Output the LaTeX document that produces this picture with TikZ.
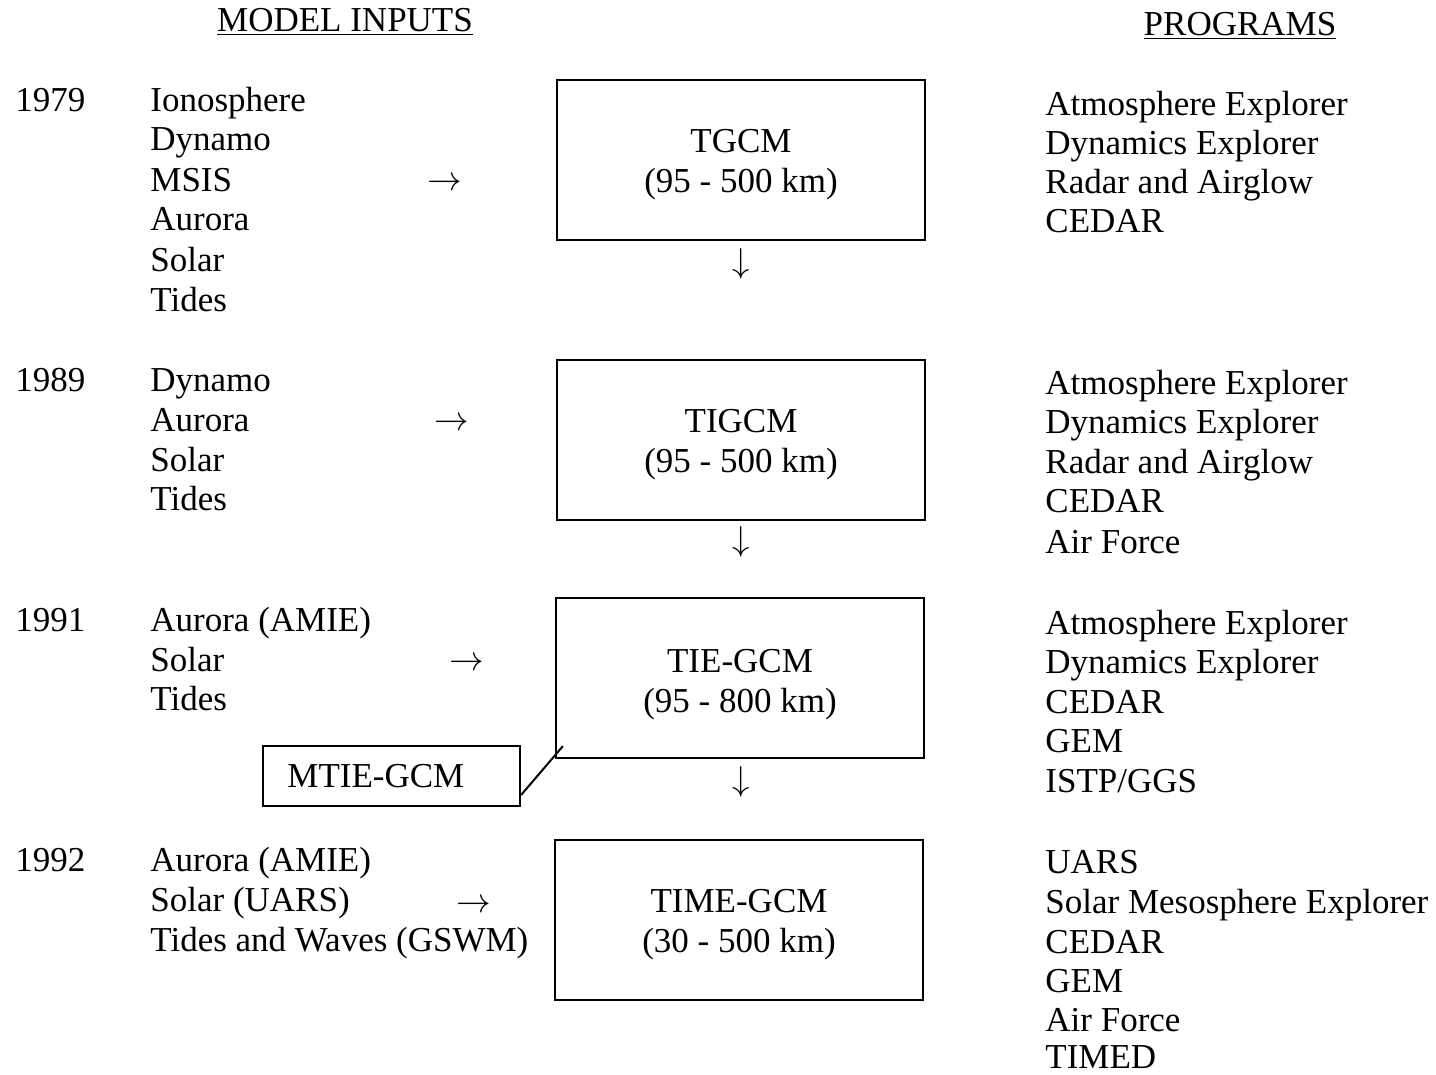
\documentclass[tikz,border=0pt]{standalone}
\usepackage{fontspec}
\setmainfont{Liberation Serif}
\begin{document}
\begin{tikzpicture}[x=0.5pt,y=-0.5pt,
  txt/.style={font=\fontsize{17.5}{20}\selectfont, inner sep=0pt, text height=12pt, text depth=0.1pt},
  item/.style={txt, anchor=west},
  glyph/.style={font=\fontsize{17.5}{20}\selectfont, inner sep=0pt},
  modelbox/.style={draw, line width=1.1pt, inner sep=0pt, minimum width=184pt, minimum height=80pt},
  boxtext/.style={align=center, inner sep=0pt, font=\fontsize{17.5}{20}\selectfont},
  hdr/.style={font=\fontsize{17.5}{20}\selectfont, inner sep=0pt, anchor=center}
]
\useasboundingbox (0,0) rectangle (1436,1075);

% headers
\node[hdr] (h1) at (345,22) {\underline{MODEL INPUTS}};
\node[hdr] (h2) at (1240,26) {\underline{PROGRAMS}};

% years
\foreach \t/\y [count=\i] in {1979/100,1989/380,1991/620,1992/860}
  \node[item] (yr\i) at (15,\y) {\t};

% model inputs
\foreach \t/\y [count=\i] in {Ionosphere/100,Dynamo/139,MSIS/180,Aurora/219,Solar/260,Tides/300,
  Dynamo/380,Aurora/420,Solar/460,Tides/499,
  Aurora (AMIE)/620,Solar/660,Tides/699,
  Aurora (AMIE)/860,Solar (UARS)/900,Tides and Waves (GSWM)/940}
  \node[item] (in\i) at (150,\y) {\t};

% programs
\foreach \t/\y [count=\i] in {Atmosphere Explorer/104,Dynamics Explorer/143,Radar and Airglow/182,CEDAR/221,
  Atmosphere Explorer/383,Dynamics Explorer/422,Radar and Airglow/462,CEDAR/501,Air Force/542,
  Atmosphere Explorer/623,Dynamics Explorer/662,CEDAR/702,GEM/741,ISTP\slash GGS/781,
  UARS/862,Solar Mesosphere Explorer/902,CEDAR/942,GEM/981,Air Force/1020,TIMED/1057}
  \node[item] (pr\i) at (1045,\y) {\t};

% model boxes
\node[modelbox] (b1) at (741,160) {};
\node[modelbox] (b2) at (741,440) {};
\node[modelbox] (b3) at (740,678) {};
\node[modelbox] (b4) at (739,920) {};
\node[boxtext] (t1) at (741,165) {TGCM\\(95 - 500 km)};
\node[boxtext] (t2) at (741,445) {TIGCM\\(95 - 500 km)};
\node[boxtext] (t3) at (740,685) {TIE-GCM\\(95 - 800 km)};
\node[boxtext] (t4) at (739,925) {TIME-GCM\\(30 - 500 km)};

% right arrows (glyphs)
\node[glyph] (ra1) at (445,184) {$\rightarrow$};
\node[glyph] (ra2) at (452,424) {$\rightarrow$};
\node[glyph] (ra3) at (467,664) {$\rightarrow$};
\node[glyph] (ra4) at (474,906) {$\rightarrow$};

% down arrows (glyphs)
\node[glyph] (da1) at (741,264) {$\downarrow$};
\node[glyph] (da2) at (741,542) {$\downarrow$};
\node[glyph] (da3) at (741,782) {$\downarrow$};

% MTIE-GCM box
\node[draw, line width=1.1pt, minimum width=128.5pt, minimum height=30pt, inner sep=0pt] (mtie) at (391.5,776) {};
\node[item] (mtiet) at (287,776) {MTIE-GCM};
\coordinate (tj) at ([xshift=4pt,yshift=6.5pt]b3.south west);
\draw[line width=1pt] ([yshift=-9.5pt]mtie.east) -- (tj);
\end{tikzpicture}
\end{document}
